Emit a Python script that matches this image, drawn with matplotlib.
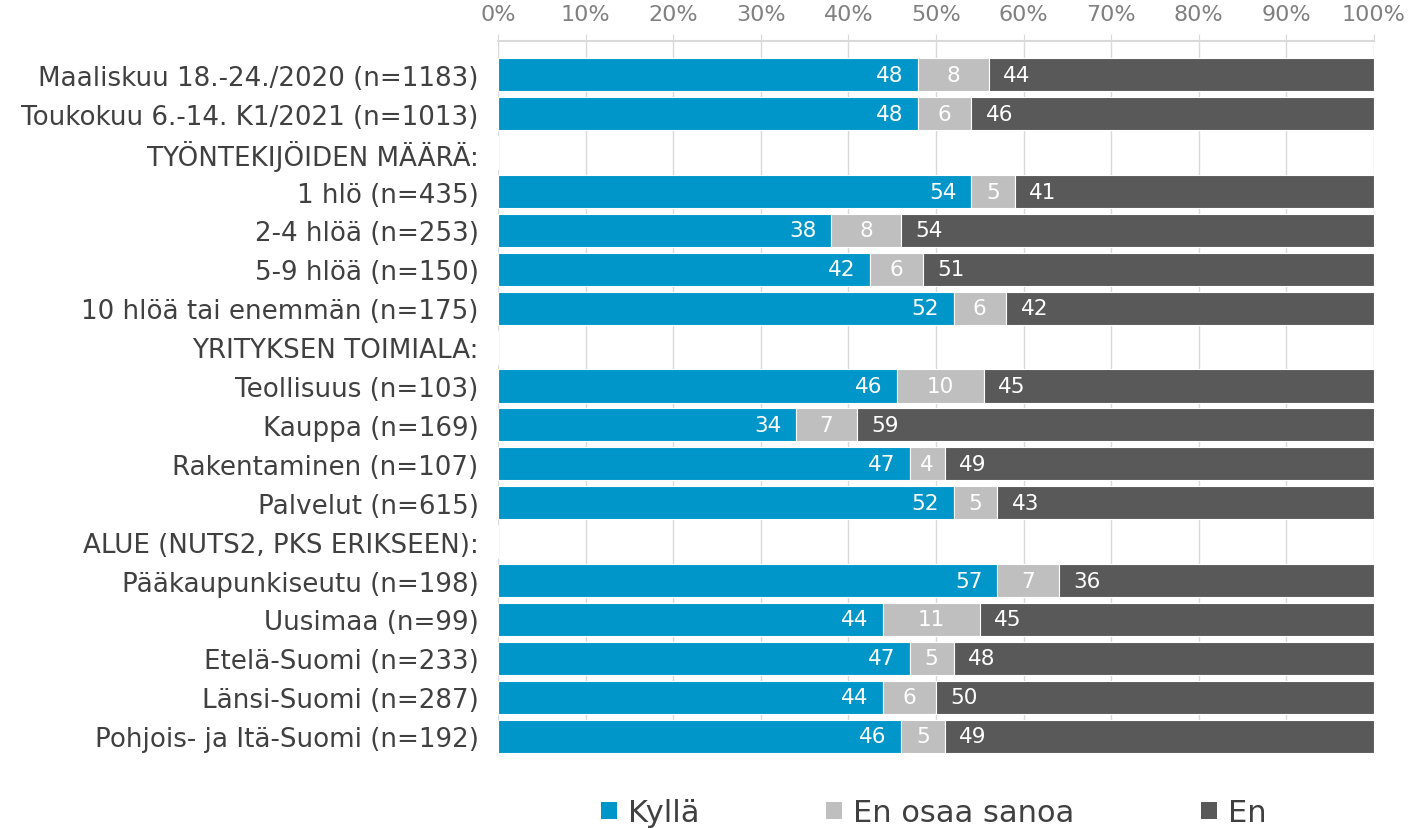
import matplotlib
matplotlib.use("Agg")
import matplotlib.pyplot as plt
from matplotlib.patches import Patch
import numpy as np

categories = [
    "Maaliskuu 18.-24./2020 (n=1183)",
    "Toukokuu 6.-14. K1/2021 (n=1013)",
    "TYÖNTEKIJÖIDEN MÄÄRÄ:",
    "1 hlö (n=435)",
    "2-4 hlöä (n=253)",
    "5-9 hlöä (n=150)",
    "10 hlöä tai enemmän (n=175)",
    "YRITYKSEN TOIMIALA:",
    "Teollisuus (n=103)",
    "Kauppa (n=169)",
    "Rakentaminen (n=107)",
    "Palvelut (n=615)",
    "ALUE (NUTS2, PKS ERIKSEEN):",
    "Pääkaupunkiseutu (n=198)",
    "Uusimaa (n=99)",
    "Etelä-Suomi (n=233)",
    "Länsi-Suomi (n=287)",
    "Pohjois- ja Itä-Suomi (n=192)",
]
kylla = [48, 48, 0, 54, 38, 42, 52, 0, 46, 34, 47, 52, 0, 57, 44, 47, 44, 46]
en_osaa = [8, 6, 0, 5, 8, 6, 6, 0, 10, 7, 4, 5, 0, 7, 11, 5, 6, 5]
en = [44, 46, 0, 41, 54, 51, 42, 0, 45, 59, 49, 43, 0, 36, 45, 48, 50, 49]
series_names = ["Kyllä", "En osaa sanoa", "En"]
colors = ["#0096C9", "#BFBFBF", "#595959"]
xticks = list(range(0, 101, 10))

fig = plt.figure(figsize=(14.15, 8.29), dpi=100)
ax = fig.add_axes([498 / 1415, 1 - 755 / 829, 876 / 1415, (755 - 42) / 829])

data = np.array([kylla, en_osaa, en], dtype=float)
totals = data.sum(axis=0)
pct = np.where(totals > 0, data / np.where(totals > 0, totals, 1) * 100, 0)

y = np.arange(len(categories))
left = np.zeros(len(categories))
for i, (name, col) in enumerate(zip(series_names, colors)):
    ax.barh(y, pct[i], left=left, height=0.85, color=col, edgecolor="white",
            linewidth=0.8, label=name, zorder=3)
    for j in range(len(categories)):
        v = data[i, j]
        if totals[j] == 0:
            continue
        lab = f"{int(v)}"
        if i == 0:
            ax.annotate(lab, (left[j] + pct[i, j], y[j]), xytext=(-10.5, 0),
                        textcoords="offset points", ha="right", va="center",
                        color="white", fontsize=15.5, zorder=4)
        elif i == 1:
            ax.annotate(lab, (left[j] + pct[i, j] / 2, y[j]), xytext=(0, 0),
                        textcoords="offset points", ha="center", va="center",
                        color="white", fontsize=15.5, zorder=4)
        else:
            ax.annotate(lab, (left[j], y[j]), xytext=(10.5, 0),
                        textcoords="offset points", ha="left", va="center",
                        color="white", fontsize=15.5, zorder=4)
    left = left + pct[i]

ax.set_xlim(0, 100)
ax.set_ylim(17.46, -0.87)
ax.set_yticks(y)
ax.set_yticklabels(categories, fontsize=18.8, color="#404040")
ax.tick_params(axis="y", length=0, pad=14)
ax.xaxis.tick_top()
ax.set_xticks(xticks)
ax.set_xticklabels([f"{t}%" for t in xticks], fontsize=16, color="#808080")
ax.tick_params(axis="x", direction="out", length=5, color="#D9D9D9", pad=7)
ax.grid(axis="x", color="#D9D9D9", linewidth=1, zorder=0)
ax.set_axisbelow(True)
for s in ["right", "bottom", "left"]:
    ax.spines[s].set_visible(False)
ax.spines["top"].set_color("#D9D9D9")
ax.spines["top"].set_linewidth(1.5)

handles = [Patch(facecolor=c, edgecolor="none") for c in colors]
fig.legend(handles, series_names, loc="center", bbox_to_anchor=(0.66, 1 - 814 / 829),
           ncol=3, frameon=False, fontsize=22, handlelength=0.52, handleheight=0.5,
           handletextpad=0.36, columnspacing=4.15, labelcolor="#404040",
           borderpad=0, borderaxespad=0)

fig.savefig("out.png", dpi=100)
